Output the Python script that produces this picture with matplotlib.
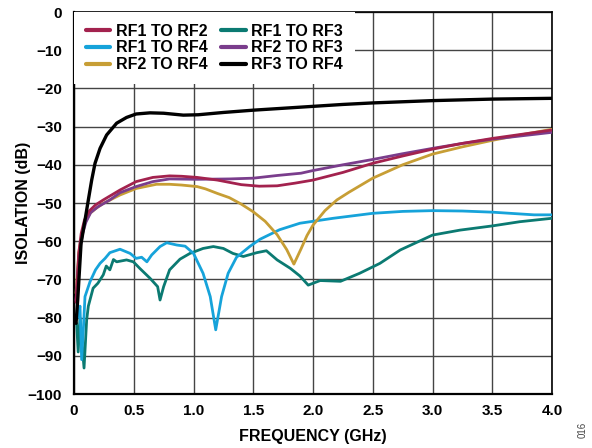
import matplotlib
matplotlib.use("Agg")
import matplotlib.pyplot as plt
import numpy as np

plt.rcParams['font.family'] = ['Liberation Sans', 'DejaVu Sans']

# ---- data (GHz, dB) ----
f_rf3_rf4 = [0.017, 0.031, 0.059, 0.092, 0.12, 0.148, 0.176, 0.218, 0.273, 0.357, 0.44, 0.52,
             0.636, 0.75, 0.915, 1.04, 1.25, 1.5, 1.75, 2.0, 2.25, 2.5, 3.0, 3.5, 4.0]
v_rf3_rf4 = [-81.5, -75.4, -60.6, -54.5, -49.2, -44.0, -39.6, -35.7, -32.2, -29.1, -27.6, -26.7,
             -26.4, -26.5, -27.0, -26.9, -26.3, -25.7, -25.2, -24.7, -24.2, -23.8, -23.2,
             -22.8, -22.6]

f_rf1_rf2 = [0.017, 0.04, 0.06, 0.087, 0.13, 0.18, 0.245, 0.385, 0.52, 0.66, 0.8, 0.9, 1.03,
             1.2, 1.4, 1.55, 1.7, 1.85, 2.0, 2.25, 2.5, 2.75, 3.0, 3.25, 3.5, 3.75, 4.0]
v_rf1_rf2 = [-76, -63, -58, -54.5, -52.0, -50.5, -49.2, -46.6, -44.4, -43.3, -42.9, -43.0,
             -43.3, -44.0, -45.2, -45.6, -45.5, -44.8, -44.0, -42.0, -39.6, -37.7, -35.9,
             -34.4, -33.1, -32.0, -30.9]

f_rf2_rf3 = [0.017, 0.04, 0.072, 0.1, 0.14, 0.2, 0.3, 0.385, 0.52, 0.66, 0.8, 1.03, 1.3, 1.5,
             1.7, 1.9, 2.0, 2.25, 2.5, 2.75, 3.0, 3.25, 3.5, 3.75, 4.0]
v_rf2_rf3 = [-75.5, -64, -58, -55, -52.5, -51, -49.2, -47.3, -45.7, -44.4, -43.7, -43.8, -43.7,
             -43.5, -42.8, -42.2, -41.5, -40.0, -38.6, -37.1, -35.7, -34.4, -33.3, -32.4, -31.5]

f_rf2_rf4 = [0.017, 0.04, 0.072, 0.1, 0.134, 0.18, 0.245, 0.385, 0.52, 0.69, 0.8, 0.9, 1.03,
             1.1, 1.2, 1.3, 1.4, 1.5, 1.6, 1.7, 1.78, 1.84, 1.9, 1.95, 2.0, 2.1, 2.2, 2.3,
             2.5, 2.75, 3.0, 3.25, 3.5, 3.75, 4.0]
v_rf2_rf4 = [-73.6, -63, -57, -54.5, -52.7, -51.5, -50.1, -47.9, -46.2, -45.1, -45.1, -45.3,
             -45.7, -46.3, -47.5, -48.6, -50.3, -52.3, -54.8, -58.3, -62.2, -66.0, -62.0,
             -58.5, -55.8, -52.0, -49.2, -47.2, -43.5, -40.0, -37.2, -35.3, -33.6, -32.1, -30.7]

f_rf1_rf4 = [0.03, 0.05, 0.064, 0.08, 0.092, 0.134, 0.18, 0.218, 0.26, 0.3, 0.385, 0.47, 0.52,
             0.566, 0.61, 0.65, 0.72, 0.776, 0.86, 0.93, 1.0, 1.08, 1.14, 1.186, 1.235, 1.29,
             1.36, 1.47, 1.556, 1.72, 1.89, 2.17, 2.5, 2.75, 3.0, 3.25, 3.5, 3.7, 3.85, 4.0]
v_rf1_rf4 = [-80, -77, -91, -82, -74.5, -70.6, -67.5, -65.8, -64.5, -63.0, -62.1, -63.2, -64.5,
             -64.2, -65.4, -63.6, -61.4, -60.4, -61.0, -61.3, -63.2, -68.4, -74.5, -83.2,
             -74.5, -68.4, -64.2, -61.4, -59.5, -57.0, -55.3, -54.0, -52.7, -52.2, -52.0,
             -52.1, -52.4, -52.8, -53.1, -53.1]

f_rf1_rf3 = [0.022, 0.035, 0.05, 0.065, 0.084, 0.106, 0.12, 0.16, 0.2, 0.245, 0.27, 0.3, 0.33,
             0.357, 0.44, 0.497, 0.55, 0.636, 0.70, 0.72, 0.75, 0.80, 0.887, 0.97, 1.08,
             1.166, 1.25, 1.33, 1.417, 1.53, 1.61, 1.70, 1.81, 1.89, 1.96, 2.06, 2.23, 2.39,
             2.56, 2.73, 3.0, 3.23, 3.5, 3.73, 4.0]
v_rf1_rf3 = [-81.5, -89, -80, -86, -93.2, -80.6, -77, -72.3, -71.0, -68.8, -66.5, -67.5, -64.8,
             -65.4, -64.9, -65.4, -67.1, -69.7, -71.9, -75.4, -71.9, -67.5, -64.7, -63.2,
             -61.9, -61.4, -61.9, -63.2, -64.0, -63.0, -62.5, -64.9, -67.1, -69.1, -71.5,
             -70.3, -70.5, -68.4, -65.8, -62.3, -58.4, -57.1, -56.0, -54.9, -54.0]

series = [
    ("RF1 TO RF2", f_rf1_rf2, v_rf1_rf2, "#A3224E", 2.0),
    ("RF1 TO RF4", f_rf1_rf4, v_rf1_rf4, "#16A3DA", 2.0),
    ("RF2 TO RF4", f_rf2_rf4, v_rf2_rf4, "#C79E35", 2.0),
    ("RF1 TO RF3", f_rf1_rf3, v_rf1_rf3, "#0B7A72", 2.0),
    ("RF2 TO RF3", f_rf2_rf3, v_rf2_rf3, "#7A3D8C", 2.0),
    ("RF3 TO RF4", f_rf3_rf4, v_rf3_rf4, "#000000", 2.4),
]
zorders = {"RF1 TO RF3": 3, "RF1 TO RF4": 4, "RF2 TO RF4": 5, "RF2 TO RF3": 6,
           "RF1 TO RF2": 7, "RF3 TO RF4": 8}

fig = plt.figure(figsize=(5.92, 4.48), dpi=100)
ax = fig.add_axes([74/592, 1-394/448, (552-74)/592, (394-12)/448])

handles = []
for name, f, v, c, lw in series:
    h, = ax.plot(f, v, color=c, lw=lw, label=name, zorder=zorders[name],
                 solid_joinstyle='round', solid_capstyle='round')
    handles.append(h)

ax.set_xlim(0, 4.0)
ax.set_ylim(-100, 0)
ax.set_xticks(np.arange(0, 4.01, 0.5))
ax.set_xticklabels(["0", "0.5", "1.0", "1.5", "2.0", "2.5", "3.0", "3.5", "4.0"])
ax.set_yticks(np.arange(-100, 1, 10))
ax.set_yticklabels(["\u2212%d" % -t if t < 0 else "0" for t in range(-100, 1, 10)])
ax.grid(True, color="#444444", lw=1.0)
ax.set_axisbelow(True)
ax.tick_params(length=0, labelsize=11)
ax.tick_params(axis='x', pad=7)
ax.tick_params(axis='y', pad=8.5)
for lbl in ax.get_xticklabels() + ax.get_yticklabels():
    lbl.set_fontweight('bold')
for s in ['left', 'bottom']:
    ax.spines[s].set_linewidth(1.6)
for s in ['top', 'right']:
    ax.spines[s].set_linewidth(1.2)

ax.set_xlabel("FREQUENCY (GHz)", fontsize=11.5, fontweight='bold', labelpad=8)
ax.set_ylabel("ISOLATION (dB)", fontsize=11.5, fontweight='bold', labelpad=-2)

leg = ax.legend(handles=handles, ncol=2, loc='upper left', bbox_to_anchor=(0, 1),
                frameon=True, fancybox=False, framealpha=1,
                edgecolor='none', facecolor='white', borderaxespad=0,
                handlelength=1.56, handletextpad=0.36, columnspacing=0.8,
                labelspacing=0.12, borderpad=0.72, prop={'weight': 'bold', 'size': 11.5})
for line in leg.get_lines():
    line.set_linewidth(3)
leg.set_zorder(20)

fig.text(583/592, 1-430/448, "016", rotation=90, fontsize=7, color="#444444",
         ha='center', va='center')

fig.savefig("out.png", dpi=100)
